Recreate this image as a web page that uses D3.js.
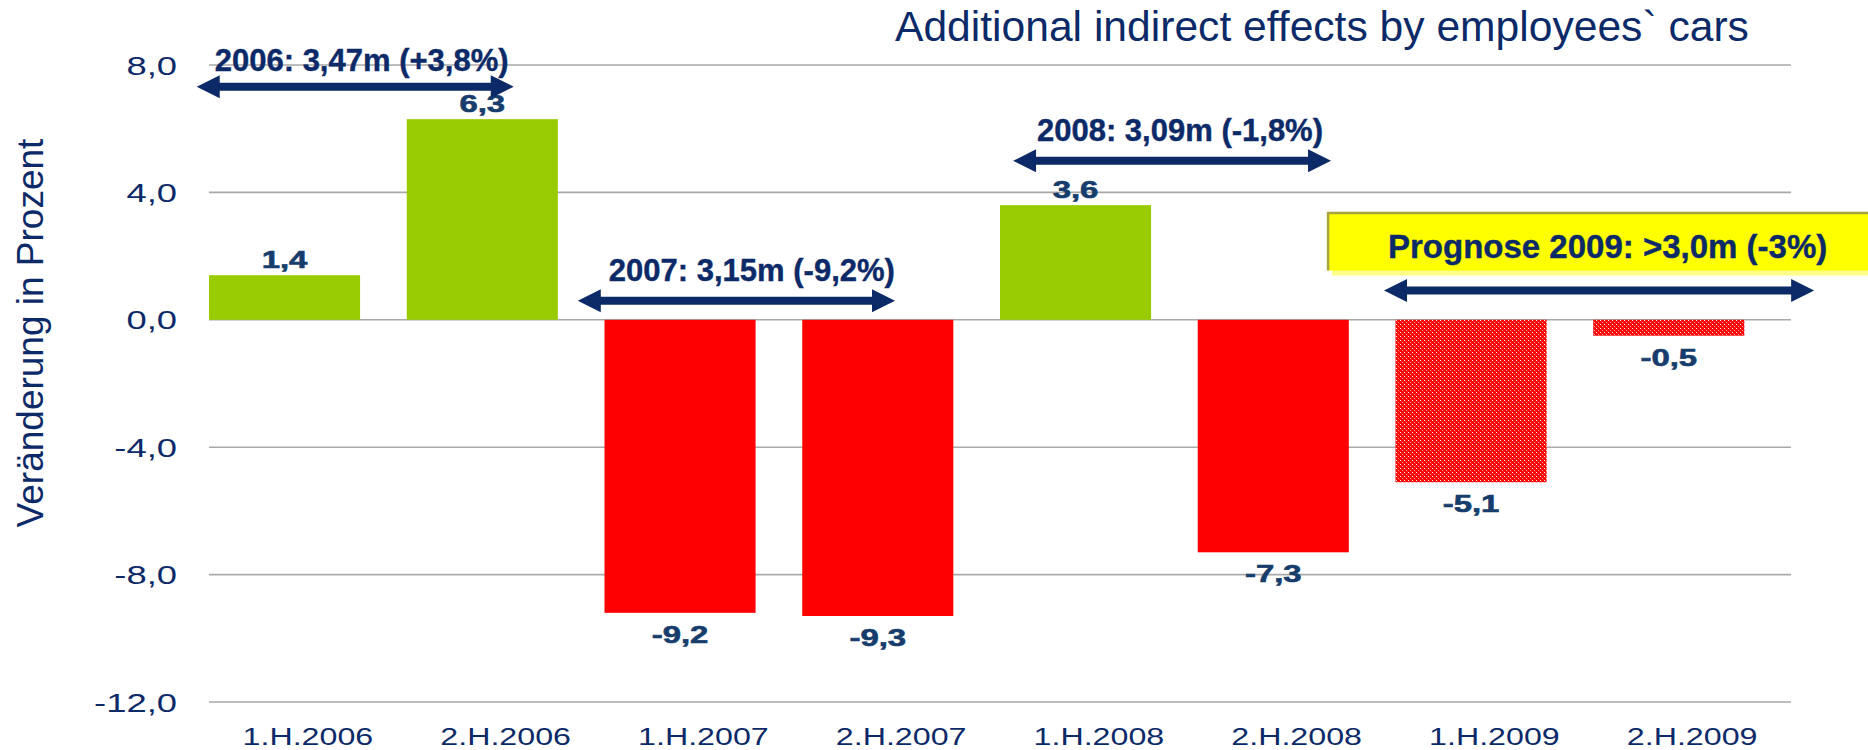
<!DOCTYPE html>
<html>
<head>
<meta charset="utf-8">
<script src="https://cdn.jsdelivr.net/npm/d3@7"></script>
<style>
  html, body { margin: 0; padding: 0; background: #fff; }
  svg { display: block; font-family: "Liberation Sans", Arial, sans-serif; }
</style>
</head>
<body>
<script>
// chart data
const categories = ['1.H.2006', '2.H.2006', '1.H.2007', '2.H.2007', '1.H.2008', '2.H.2008', '1.H.2009', '2.H.2009'];
const values = [1.4, 6.3, -9.2, -9.3, 3.6, -7.3, -5.1, -0.5];
const isForecast = [false, false, false, false, false, false, true, true];
const yTicks = [-12, -8, -4, 0, 4, 8];
const periodLabels = ['2006: 3,47m (+3,8%)', '2007: 3,15m (-9,2%)', '2008: 3,09m (-1,8%)', 'Prognose 2009: >3,0m (-3%)'];
const title = 'Additional indirect effects by employees` cars';
const yTitle = 'Veränderung in Prozent';

const width = 1868;
const height = 750;
const navy = '#0c2a68';
const labelBlue = '#163d6c';
const stretch = 1.4; // chart text in the original is stretched sideways

const de = d3.formatLocale({ decimal: ',', thousands: '.', grouping: [3], currency: ['', '€'], minus: '-' });
const fmt = de.format('.1f');

const svg = d3.select('body')
  .append('svg')
  .attr('width', width)
  .attr('height', height);

// pattern for forecast bars
const pat = svg.append('defs').append('pattern')
  .attr('id', 'forecast')
  .attr('width', 4)
  .attr('height', 4)
  .attr('patternUnits', 'userSpaceOnUse');
pat.append('rect').attr('width', 4).attr('height', 4).attr('fill', '#ff0000');
[[0, 0, '#ffffff'], [2, 2, '#ff9a9a'], [1, 1, '#ff3030'], [3, 3, '#ff3030']].forEach(([px, py, c]) => {
  pat.append('rect').attr('x', px).attr('y', py).attr('width', 1).attr('height', 1).attr('fill', c);
});

const x = d3.scaleBand()
  .domain(categories)
  .range([209, 1791]);
const step = x.step();
const barW = step * 0.764;
// position inside the category axis, in category units
const xu = (u) => x.range()[0] + u * step;

const y = d3.scaleLinear()
  .domain([-12, 8])
  .range([702, 65]);

// gridlines
svg.append('g')
  .selectAll('line')
  .data(yTicks)
  .join('line')
  .attr('x1', x.range()[0])
  .attr('x2', x.range()[1])
  .attr('y1', (d) => y(d))
  .attr('y2', (d) => y(d))
  .attr('stroke', '#a9a9a9')
  .attr('stroke-width', 1.6);

// y tick labels
svg.append('g')
  .selectAll('text')
  .data(yTicks)
  .join('text')
  .attr('transform', (d) => `translate(177,${y(d) + 9.5}) scale(${stretch},1)`)
  .attr('text-anchor', 'end')
  .attr('font-size', 26)
  .attr('fill', navy)
  .text((d) => fmt(d));

// y axis title
svg.append('text')
  .attr('transform', 'translate(43,333) rotate(-90)')
  .attr('text-anchor', 'middle')
  .attr('font-size', 37)
  .attr('fill', navy)
  .text(yTitle);

// category labels
svg.append('g')
  .selectAll('text')
  .data(categories)
  .join('text')
  .attr('transform', (d) => `translate(${x(d) + step / 2},745) scale(${stretch},1)`)
  .attr('text-anchor', 'middle')
  .attr('font-size', 23)
  .attr('fill', navy)
  .text((d) => d);

// bars
const rows = categories.map((c, i) => ({ cat: c, v: values[i], f: isForecast[i] }));
svg.append('g')
  .selectAll('rect')
  .data(rows)
  .join('rect')
  .attr('x', (d) => x(d.cat))
  .attr('width', barW)
  .attr('y', (d) => y(Math.max(0, d.v)))
  .attr('height', (d) => Math.abs(y(d.v) - y(0)))
  .attr('fill', (d) => d.f ? 'url(#forecast)' : (d.v >= 0 ? '#99cc00' : '#ff0000'));

// value labels
svg.append('g')
  .selectAll('text')
  .data(rows)
  .join('text')
  .attr('transform', (d) => `translate(${x(d.cat) + barW / 2},${d.v >= 0 ? y(d.v) - 7 : y(d.v) + 30}) scale(${stretch},1)`)
  .attr('text-anchor', 'middle')
  .attr('font-size', 23.5)
  .attr('font-weight', 'bold')
  .attr('fill', labelBlue)
  .attr('stroke', labelBlue)
  .attr('stroke-width', 0.6)
  .text((d) => fmt(d.v));

// title
svg.append('text')
  .attr('x', 895)
  .attr('y', 41)
  .attr('font-size', 42.6)
  .attr('fill', navy)
  .text(title);

// yellow forecast box
const boxL = xu(5.659);
const boxT = y(3.35);
const boxB = y(1.547);
svg.append('rect')
  .attr('x', boxL + 4)
  .attr('y', boxT + 5)
  .attr('width', width - boxL)
  .attr('height', boxB - boxT)
  .attr('fill', '#ffff88');
svg.append('rect')
  .attr('x', boxL)
  .attr('y', boxT)
  .attr('width', width - boxL)
  .attr('height', boxB - boxT)
  .attr('fill', '#ffff00');
svg.append('path')
  .attr('d', `M${boxL},${boxB}L${boxL},${boxT}L${width},${boxT}`)
  .attr('fill', 'none')
  .attr('stroke', '#a8a43c')
  .attr('stroke-width', 2.5);

// period arrows + texts (from, to, level of arrow; text start, text baseline)
const spans = [
  { from: -0.062, to: 1.541, at: 7.32, tx: 0.029, ty: 7.82 },
  { from: 1.865, to: 3.469, at: 0.6, tx: 2.022, ty: 1.23 },
  { from: 4.066, to: 5.674, at: 4.99, tx: 4.187, ty: 5.625 },
  { from: 5.942, to: 8.117, at: 0.92, tx: 5.962, ty: 1.936 }
];

function arrowPath(x0, x1, yc) {
  const hl = 23, hh = 11.5, sh = 4;
  return `M${x0},${yc}L${x0 + hl},${yc - hh}L${x0 + hl},${yc - sh}L${x1 - hl},${yc - sh}` +
    `L${x1 - hl},${yc - hh}L${x1},${yc}L${x1 - hl},${yc + hh}L${x1 - hl},${yc + sh}` +
    `L${x0 + hl},${yc + sh}L${x0 + hl},${yc + hh}Z`;
}

svg.append('g')
  .selectAll('path')
  .data(spans)
  .join('path')
  .attr('d', (d) => arrowPath(xu(d.from), xu(d.to), y(d.at)))
  .attr('fill', navy);

svg.append('g')
  .selectAll('text')
  .data(spans)
  .join('text')
  .attr('x', (d) => xu(d.tx))
  .attr('y', (d) => y(d.ty))
  .attr('font-size', (d, i) => i === 3 ? 33 : 31)
  .attr('font-weight', 'bold')
  .attr('fill', navy)
  .attr('stroke', navy)
  .attr('stroke-width', 0.4)
  .text((d, i) => periodLabels[i]);
</script>
</body>
</html>
